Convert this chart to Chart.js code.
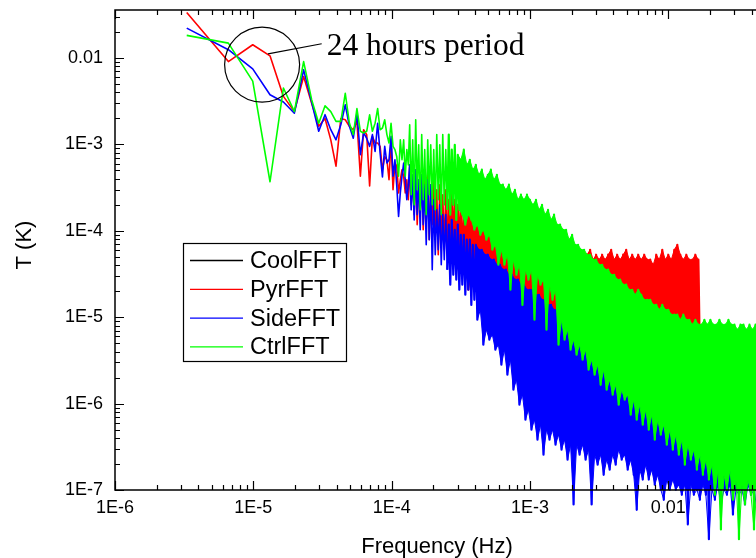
<!DOCTYPE html>
<html>
<head>
<meta charset="utf-8">
<script src="https://cdn.jsdelivr.net/npm/chart.js@4.4.1/dist/chart.umd.min.js"></script>
<style>
  html, body { margin: 0; padding: 0; background: #fff; overflow: hidden; }
  #wrap { position: relative; width: 756px; height: 558px; overflow: hidden; }
  #c { position: absolute; left: 0; top: 0; }
</style>
</head>
<body>
<div id="wrap"><canvas id="c" width="766" height="558"></canvas></div>
<script>
// FFT amplitude spectra of four temperature records (log-log).
const DF = 3.3e-6;                 // frequency resolution, Hz (bin k sits at k*DF)
const seriesNames  = ['CoolFFT', 'PyrFFT', 'SideFFT', 'CtrlFFT'];
const seriesColors = ['#000000', '#ff0000', '#0000ff', '#00ff00'];

const xTickValues = [1e-6, 1e-5, 1e-4, 1e-3, 1e-2];
const xTickLabels = ['1E-6', '1E-5', '1E-4', '1E-3', '0.01'];
const yTickValues = [1e-7, 1e-6, 1e-5, 1e-4, 1e-3, 1e-2];
const yTickLabels = ['1E-7', '1E-6', '1E-5', '1E-4', '1E-3', '0.01'];

// Individual FFT bins k = 1..40 (T in K)
const coolLowT = [];
const pyrLowT = [0.0337, 0.0091, 0.01425, 0.0106, 0.0036, 0.0024, 0.0061, 0.0030, 0.00162, 0.0020,
  0.00113, 5.6e-4, 0.0020, 0.00193, 0.00162, 0.00148, 0.00185, 4.3e-4, 0.00148, 0.0013,
  3.3e-4, 0.00124, 0.00104, 0.00104, 9.5e-4, 5.1e-4, 7.2e-4, 6.65e-4, 3.9e-4, 0.00113,
  3.0e-4, 6.1e-4, 5.6e-4, 2.75e-4, 3.9e-4, 5.1e-4, 4.3e-4, 2.75e-4, 3.9e-4, 2.29e-4];
const sideLowT = [0.0222, 0.0125, 0.0075, 0.00376, 0.0031, 0.0023, 0.0073, 0.0031, 0.00142, 0.00221,
  0.00148, 0.00113, 0.00169, 0.00288, 0.00162, 0.00118, 0.0023, 7.6e-4, 0.00136, 0.00118,
  9.5e-4, 0.0013, 8.3e-4, 0.00176, 8.0e-4, 4.2e-4, 9.5e-4, 6.1e-4, 6.65e-4, 0.00124,
  4.3e-4, 6.65e-4, 3.3e-4, 1.47e-4, 2.75e-4, 4.3e-4, 6.1e-4, 3.9e-4, 2.29e-4, 3.42e-4];
const ctrlLowT = [0.0183, 0.0149, 0.0054, 3.7e-4, 0.0045, 0.0024, 0.0091, 0.0033, 0.00176, 0.0028,
  0.0024, 0.00185, 0.00185, 0.0039, 0.00176, 0.0013, 0.0026, 0.00142, 0.00136, 0.00142,
  0.0022, 0.00142, 0.00176, 0.0026, 0.00148, 0.00155, 0.00193, 0.0013, 0.00104, 0.00176,
  9.5e-4, 8.7e-4, 7.2e-4, 4.3e-4, 0.00113, 6.65e-4, 0.00113, 4.3e-4, 8.7e-4, 5.8e-4];

// Above ~1.35e-4 Hz the bins are far denser than the plot resolution, so each
// series is kept as max/min pairs over log-spaced groups of bins.
const BIN_F0 = 1.35e-4;
const BINS_PER_DECADE = 46;
const coolHiT = [], coolLoT = [];

const pyrHiT = [5.8e-4, 4.46e-4, 5.1e-4, 3.9e-4, 4.46e-4, 3.9e-4, 4.46e-4, 3.42e-4, 3.9e-4, 2.99e-4,
  3.42e-4, 2.62e-4, 2.99e-4, 2.29e-4, 2.62e-4, 2.29e-4, 2.0e-4, 2.29e-4, 1.75e-4, 2.0e-4,
  1.75e-4, 1.54e-4, 1.75e-4, 1.34e-4, 1.54e-4, 1.34e-4, 1.18e-4, 1.34e-4, 1.03e-4, 1.18e-4,
  1.03e-4, 9.0e-5, 1.03e-4, 9.0e-5, 7.9e-5, 9.0e-5, 7.9e-5, 6.9e-5, 7.9e-5, 6.9e-5,
  6.9e-5, 6.04e-5, 6.9e-5, 6.04e-5, 6.04e-5, 6.9e-5, 5.29e-5, 6.04e-5, 5.29e-5, 6.04e-5,
  5.29e-5, 6.04e-5, 5.29e-5, 5.29e-5, 6.04e-5, 5.29e-5, 4.63e-5, 5.29e-5, 4.63e-5, 5.29e-5,
  6.04e-5, 4.63e-5, 5.29e-5, 4.63e-5, 5.29e-5, 4.63e-5, 5.29e-5, 6.04e-5, 4.63e-5, 5.29e-5,
  4.63e-5, 5.29e-5, 6.04e-5, 4.63e-5, 5.29e-5, 4.63e-5, 5.29e-5, 4.63e-5, 5.29e-5, 4.63e-5,
  4.63e-5, 4.05e-5, 5.29e-5, 4.63e-5, 6.04e-5, 4.63e-5, 5.29e-5, 4.63e-5, 6.04e-5, 6.9e-5,
  5.29e-5, 4.63e-5, 5.29e-5, 4.63e-5, 4.63e-5, 5.29e-5, 4.63e-5];
const pyrLoT = [2.0e-4, 1.54e-4, 1.18e-4, 1.75e-4, 1.03e-4, 1.34e-4, 7.9e-5, 1.18e-4, 9.0e-5, 5.29e-5,
  7.9e-5, 6.04e-5, 6.9e-5, 4.63e-5, 6.04e-5, 3.55e-5, 4.63e-5, 3.1e-5, 4.05e-5, 2.08e-5,
  3.1e-5, 2.38e-5, 2.72e-5, 1.82e-5, 2.38e-5, 1.59e-5, 2.08e-5, 1.39e-5, 1.82e-5, 1.59e-5,
  1.82e-5, 1.22e-5, 1.59e-5, 1.39e-5, 1.59e-5, 1.07e-5, 1.39e-5, 9.35e-6, 1.22e-5, 8.2e-6,
  1.07e-5, 9.35e-6, 7.17e-6, 9.35e-6, 6.27e-6, 8.2e-6, 7.17e-6, 5.49e-6, 7.17e-6, 6.27e-6,
  5.49e-6, 7.17e-6, 4.8e-6, 6.27e-6, 5.49e-6, 6.27e-6, 4.8e-6, 5.49e-6, 4.8e-6, 5.49e-6,
  4.8e-6, 5.49e-6, 4.2e-6, 5.49e-6, 4.8e-6, 5.49e-6, 4.2e-6, 4.8e-6, 5.49e-6, 4.2e-6,
  4.8e-6, 4.2e-6, 4.8e-6, 4.2e-6, 4.8e-6, 3.68e-6, 4.8e-6, 4.2e-6, 4.8e-6, 3.68e-6,
  4.8e-6, 4.2e-6, 3.68e-6, 4.8e-6, 4.2e-6, 3.68e-6, 4.8e-6, 4.2e-6, 3.68e-6, 4.8e-6,
  4.2e-6, 3.68e-6, 4.8e-6, 4.2e-6, 3.68e-6, 4.2e-6, 3.68e-6];

const sideHiT = [5.8e-4, 4.46e-4, 5.1e-4, 3.9e-4, 4.46e-4, 3.42e-4, 3.9e-4, 3.42e-4, 2.29e-4, 1.75e-4,
  2.0e-4, 1.54e-4, 1.54e-4, 1.18e-4, 1.34e-4, 1.03e-4, 1.18e-4, 9.0e-5, 9.0e-5, 7.9e-5,
  7.9e-5, 6.9e-5, 6.9e-5, 6.04e-5, 6.04e-5, 5.29e-5, 5.29e-5, 4.63e-5, 4.63e-5, 4.05e-5,
  4.05e-5, 3.55e-5, 3.55e-5, 3.1e-5, 3.1e-5, 2.72e-5, 2.72e-5, 2.38e-5, 2.38e-5, 2.08e-5,
  2.08e-5, 2.08e-5, 1.82e-5, 1.82e-5, 1.59e-5, 1.59e-5, 1.39e-5, 1.39e-5, 1.22e-5, 1.22e-5,
  1.07e-5, 1.07e-5, 9.35e-6, 9.35e-6, 8.2e-6, 8.2e-6, 7.17e-6, 7.17e-6, 6.27e-6, 6.27e-6,
  5.49e-6, 5.49e-6, 4.8e-6, 4.8e-6, 4.2e-6, 4.2e-6, 3.68e-6, 3.68e-6, 3.22e-6, 3.22e-6,
  2.82e-6, 2.82e-6, 2.82e-6, 2.47e-6, 2.47e-6, 2.47e-6, 2.16e-6, 2.16e-6, 2.16e-6, 1.89e-6,
  1.89e-6, 1.89e-6, 1.65e-6, 1.65e-6, 1.65e-6, 1.45e-6, 1.45e-6, 1.45e-6, 1.45e-6, 1.27e-6,
  1.27e-6, 1.27e-6, 1.27e-6, 1.11e-6, 1.11e-6, 1.11e-6, 1.11e-6, 9.7e-7, 9.7e-7, 9.7e-7,
  9.7e-7, 9.7e-7, 8.5e-7, 8.5e-7, 8.5e-7, 8.5e-7, 8.5e-7, 7.44e-7, 7.44e-7, 7.44e-7,
  7.44e-7, 7.44e-7, 7.44e-7, 6.51e-7, 6.51e-7, 6.51e-7, 6.51e-7, 6.51e-7, 6.51e-7];
const sideLoT = [1.75e-4, 1.34e-4, 1.54e-4, 1.03e-4, 1.18e-4, 6.9e-5, 7.9e-5, 3.55e-5, 5.29e-5, 6.04e-5,
  4.05e-5, 4.63e-5, 3.55e-5, 2.38e-5, 3.1e-5, 2.72e-5, 2.08e-5, 2.38e-5, 1.82e-5, 2.08e-5,
  1.39e-5, 1.59e-5, 9.35e-6, 1.22e-5, 4.8e-6, 7.17e-6, 5.49e-6, 6.27e-6, 4.2e-6, 4.8e-6,
  2.82e-6, 4.2e-6, 2.16e-6, 3.22e-6, 1.45e-6, 1.89e-6, 9.7e-7, 1.27e-6, 6.51e-7, 8.5e-7,
  4.99e-7, 6.51e-7, 3.82e-7, 5.7e-7, 2.56e-7, 4.99e-7, 3.82e-7, 4.99e-7, 3.34e-7, 4.37e-7,
  2.93e-7, 3.82e-7, 2.24e-7, 3.34e-7, 6.8e-8, 3.34e-7, 2.56e-7, 3.34e-7, 2.24e-7, 2.93e-7,
  6.8e-8, 2.56e-7, 1.96e-7, 2.56e-7, 1.5e-7, 2.24e-7, 1.72e-7, 2.56e-7, 1.96e-7, 2.93e-7,
  2.24e-7, 2.56e-7, 1.72e-7, 2.24e-7, 1.5e-7, 5.9e-8, 1.72e-7, 1.32e-7, 1.96e-7, 1.32e-7,
  1.72e-7, 1.15e-7, 1.5e-7, 1.01e-7, 7.7e-8, 1.32e-7, 1.01e-7, 1.32e-7, 1.01e-7, 1.15e-7,
  8.8e-8, 1.15e-7, 4.0e-8, 1.15e-7, 8.8e-8, 1.01e-7, 7.7e-8, 1.15e-7, 8.8e-8, 2.7e-8,
  1.01e-7, 7.7e-8, 1.15e-7, 6.8e-8, 1.01e-7, 8.8e-8, 1.15e-7, 5.2e-8, 1.01e-7, 8.8e-8,
  1.01e-7, 6.8e-8, 1.15e-7, 8.8e-8, 1.01e-7, 5.9e-8, 1.01e-7, 8.8e-8, 1.01e-7];

const ctrlHiT = [1.69e-3, 1.13e-3, 1.93e-3, 9.9e-4, 1.30e-3, 8.7e-4, 1.13e-3, 9.9e-4, 8.7e-4, 1.30e-3,
  9.9e-4, 1.30e-3, 8.7e-4, 1.30e-3, 8.7e-4, 9.9e-4, 7.6e-4, 6.65e-4, 8.7e-4, 5.8e-4,
  6.65e-4, 5.1e-4, 5.8e-4, 4.46e-4, 5.1e-4, 3.9e-4, 4.46e-4, 5.1e-4, 3.9e-4, 4.46e-4,
  3.42e-4, 3.42e-4, 2.99e-4, 3.42e-4, 2.62e-4, 2.99e-4, 2.29e-4, 2.62e-4, 2.29e-4, 2.62e-4,
  2.29e-4, 2.0e-4, 2.29e-4, 1.75e-4, 2.0e-4, 1.54e-4, 1.75e-4, 1.34e-4, 1.54e-4, 1.18e-4,
  1.18e-4, 1.03e-4, 1.03e-4, 7.9e-5, 9.0e-5, 6.9e-5, 6.9e-5, 6.04e-5, 6.04e-5, 5.29e-5,
  5.29e-5, 4.63e-5, 4.63e-5, 4.05e-5, 4.05e-5, 3.55e-5, 3.55e-5, 3.1e-5, 3.1e-5, 2.72e-5,
  2.72e-5, 2.38e-5, 2.38e-5, 2.08e-5, 2.08e-5, 1.82e-5, 2.08e-5, 1.82e-5, 1.59e-5, 1.59e-5,
  1.59e-5, 1.39e-5, 1.39e-5, 1.22e-5, 1.39e-5, 1.22e-5, 1.22e-5, 1.07e-5, 1.07e-5, 1.07e-5,
  9.35e-6, 1.07e-5, 9.35e-6, 9.35e-6, 8.2e-6, 9.35e-6, 8.2e-6, 8.2e-6, 9.35e-6, 8.2e-6,
  9.35e-6, 8.2e-6, 8.2e-6, 9.35e-6, 8.2e-6, 8.2e-6, 9.35e-6, 8.2e-6, 8.2e-6, 7.17e-6,
  8.2e-6, 8.2e-6, 7.17e-6, 8.2e-6, 7.17e-6, 8.2e-6, 7.17e-6, 7.17e-6, 7.17e-6];
const ctrlLoT = [2.62e-4, 2.0e-4, 2.99e-4, 1.75e-4, 2.29e-4, 1.54e-4, 2.62e-4, 2.0e-4, 1.75e-4, 2.29e-4,
  1.54e-4, 2.0e-4, 1.75e-4, 1.54e-4, 2.0e-4, 1.34e-4, 1.75e-4, 1.54e-4, 1.18e-4, 1.54e-4,
  1.34e-4, 1.03e-4, 1.18e-4, 9.0e-5, 1.03e-4, 7.9e-5, 9.0e-5, 6.04e-5, 6.9e-5, 4.05e-5,
  6.04e-5, 4.05e-5, 5.29e-5, 2.08e-5, 4.63e-5, 3.1e-5, 4.05e-5, 1.39e-5, 3.55e-5, 2.72e-5,
  3.55e-5, 9.35e-6, 3.1e-5, 2.38e-5, 2.72e-5, 7.17e-6, 2.38e-5, 1.59e-5, 2.08e-5, 4.8e-6,
  9.35e-6, 5.49e-6, 7.17e-6, 4.2e-6, 5.49e-6, 3.68e-6, 4.8e-6, 3.22e-6, 4.2e-6, 2.47e-6,
  3.22e-6, 2.16e-6, 2.82e-6, 1.65e-6, 2.47e-6, 1.45e-6, 1.89e-6, 1.27e-6, 1.65e-6, 9.7e-7,
  1.45e-6, 1.11e-6, 1.27e-6, 7.44e-7, 1.11e-6, 6.51e-7, 9.7e-7, 5.7e-7, 8.5e-7, 4.99e-7,
  7.44e-7, 3.82e-7, 6.51e-7, 4.37e-7, 5.7e-7, 3.34e-7, 4.99e-7, 2.93e-7, 4.37e-7, 2.56e-7,
  3.82e-7, 1.96e-7, 3.34e-7, 2.24e-7, 2.93e-7, 1.72e-7, 2.56e-7, 1.5e-7, 2.24e-7, 1.32e-7,
  1.96e-7, 8.8e-8, 1.72e-7, 3.5e-8, 1.5e-7, 1.01e-7, 1.72e-7, 7.7e-8, 1.32e-7, 2.7e-8,
  1.15e-7, 6.8e-8, 1.32e-7, 8.8e-8, 3.5e-8, 1.15e-7, 7.7e-8, 1.01e-7, 8.8e-8];

// first max/min group from which each spectrum reads as a solid band
const bandStart = [null, 18, 22, 16];

// Annotation: the diurnal (24 h) line
const DAY_FREQ = 1 / 86400;
const annotationText = '24 hours period';

const HALF_STEP = Math.pow(10, 0.5 / BINS_PER_DECADE);
const groupFreq = i => BIN_F0 * Math.pow(10, i / BINS_PER_DECADE);

// trace: single bins, then max/min alternation through the dense groups
function buildSeries(lowT, hiT, loT) {
  const pts = lowT.map((v, i) => ({ x: (i + 1) * DF, y: v }));
  hiT.forEach((v, i) => {
    pts.push({ x: groupFreq(i), y: v });
    if (i < loT.length) pts.push({ x: groupFreq(i) * HALF_STEP, y: loT[i] });
  });
  return pts;
}
// band outline: maxima left to right, minima back right to left
function buildBand(hiT, loT, start) {
  if (start === null || !hiT.length) return [];
  const pts = [];
  for (let i = start; i < hiT.length; i++) pts.push({ x: groupFreq(i), y: hiT[i] });
  for (let i = loT.length - 1; i >= start; i--) pts.push({ x: groupFreq(i) * HALF_STEP, y: loT[i] });
  return pts;
}

const hiSets = [coolHiT, pyrHiT, sideHiT, ctrlHiT];
const loSets = [coolLoT, pyrLoT, sideLoT, ctrlLoT];
const lowSets = [coolLowT, pyrLowT, sideLowT, ctrlLowT];

const SANS = '"Liberation Sans", Arial, Helvetica, sans-serif';
const SERIF = '"Liberation Serif", "Times New Roman", serif';

// Frame with inward ticks on all four sides.
const decorPlugin = {
  id: 'decor',
  afterDatasetsDraw(chart) {
    const { ctx, chartArea: a, scales: { x, y } } = chart;
    ctx.save();
    ctx.strokeStyle = '#000';
    ctx.lineWidth = 1.5;
    ctx.strokeRect(a.left, a.top, a.right - a.left, a.bottom - a.top);
    ctx.lineWidth = 1.2;
    const tickList = (lo, hi) => {
      const out = [];
      for (let d = Math.floor(Math.log10(lo)); d <= Math.ceil(Math.log10(hi)); d++) {
        for (let m = 1; m <= 9; m++) {
          const v = m * Math.pow(10, d);
          if (v >= lo * 0.999 && v <= hi * 1.001) out.push({ v, major: m === 1 });
        }
      }
      return out;
    };
    ctx.beginPath();
    tickList(x.min, x.max).forEach(t => {
      const px = Math.round(x.getPixelForValue(t.v)) + 0.5;
      const len = t.major ? 9 : 5;
      ctx.moveTo(px, a.bottom); ctx.lineTo(px, a.bottom - len);
      ctx.moveTo(px, a.top); ctx.lineTo(px, a.top + len);
    });
    tickList(y.min, y.max).forEach(t => {
      const py = Math.round(y.getPixelForValue(t.v)) + 0.5;
      const len = t.major ? 9 : 5;
      ctx.moveTo(a.left, py); ctx.lineTo(a.left + len, py);
      ctx.moveTo(a.right, py); ctx.lineTo(a.right - len, py);
    });
    ctx.stroke();
    ctx.restore();
  },
  // Axis titles, legend and the 24 h annotation.
  afterDraw(chart) {
    const { ctx, scales: { x, y } } = chart;
    ctx.save();
    ctx.fillStyle = '#000';
    ctx.strokeStyle = '#000';

    ctx.font = '22px ' + SANS;
    ctx.textAlign = 'center';
    ctx.textBaseline = 'alphabetic';
    ctx.fillText('Frequency (Hz)', 437, 553);
    ctx.save();
    ctx.translate(25, 245);
    ctx.rotate(-Math.PI / 2);
    ctx.textBaseline = 'middle';
    ctx.fillText('T (K)', 0, 0);
    ctx.restore();

    const lx = 183.5, ly = 243.5, lw = 163, lh = 118;
    ctx.lineWidth = 1.2;
    ctx.strokeRect(lx, ly, lw, lh);
    ctx.font = '23.5px ' + SANS;
    ctx.textAlign = 'left';
    ctx.textBaseline = 'middle';
    seriesNames.forEach((name, i) => {
      const ry = 260.5 + i * 28.8;
      ctx.strokeStyle = seriesColors[i];
      ctx.lineWidth = 1.3;
      ctx.beginPath();
      ctx.moveTo(190, ry); ctx.lineTo(243, ry);
      ctx.stroke();
      ctx.fillStyle = '#000';
      ctx.fillText(name, 250, ry + 1);
    });

    ctx.strokeStyle = '#000';
    ctx.lineWidth = 1.2;
    const cx = x.getPixelForValue(DAY_FREQ);
    const cy = y.getPixelForValue(8.4e-3);
    ctx.beginPath();
    ctx.arc(cx, cy, 37.5, 0, Math.PI * 2);
    ctx.stroke();
    const sx = x.getPixelForValue(4 * DF) - 2;
    const sy = y.getPixelForValue(pyrLowT[3]) - 2;
    const ex = x.getPixelForValue(3.12e-5);
    const ey = y.getPixelForValue(0.01464);
    ctx.beginPath();
    ctx.moveTo(sx, sy); ctx.lineTo(ex, ey);
    ctx.stroke();
    ctx.font = '31.5px ' + SERIF;
    ctx.textAlign = 'left';
    ctx.textBaseline = 'alphabetic';
    ctx.fillStyle = '#000';
    ctx.fillText(annotationText, ex + 5, y.getPixelForValue(0.0109));
    ctx.restore();
  }
};

const tickFont = { family: SANS, size: 18 };
// thicker strokes where the spectrum is packed densely
const segWidth = c => (c.p0.parsed.x > 2.5e-4 ? 2.2 : 1.6);

const datasets = [];
seriesNames.forEach((name, i) => {
  const order = seriesNames.length - 1 - i;
  datasets.push({
    label: name,
    data: buildSeries(lowSets[i], hiSets[i], loSets[i]),
    borderColor: seriesColors[i],
    backgroundColor: seriesColors[i],
    borderWidth: 1.6,
    borderJoinStyle: 'round',
    segment: { borderWidth: segWidth },
    pointRadius: 0,
    tension: 0,
    fill: false,
    clip: false,
    order
  });
  datasets.push({
    label: name + ' band',
    data: buildBand(hiSets[i], loSets[i], bandStart[i]),
    borderColor: seriesColors[i],
    backgroundColor: seriesColors[i],
    borderWidth: 1,
    pointRadius: 0,
    tension: 0,
    fill: 'shape',
    clip: false,
    order
  });
});

new Chart(document.getElementById('c'), {
  type: 'line',
  data: { datasets },
  options: {
    responsive: false,
    animation: false,
    devicePixelRatio: 1,
    events: [],
    layout: { padding: { left: 0, right: 1, top: 10, bottom: 0 } },
    plugins: { legend: { display: false }, tooltip: { enabled: false } },
    scales: {
      x: {
        type: 'logarithmic',
        min: 1e-6,
        max: 0.05,
        afterBuildTicks: s => { s.ticks = xTickValues.map(v => ({ value: v })); },
        afterFit: s => { s.height = 68; s.paddingLeft = 0; s.paddingRight = 0; },
        ticks: {
          callback: (v, i) => xTickLabels[i],
          font: tickFont, color: '#000', padding: 7,
          maxRotation: 0, autoSkip: false
        },
        grid: { display: false, drawTicks: false },
        border: { display: false }
      },
      y: {
        type: 'logarithmic',
        min: 1e-7,
        max: 0.036,
        afterBuildTicks: s => { s.ticks = yTickValues.map(v => ({ value: v })); },
        afterFit: s => { s.width = 115; s.paddingTop = 0; s.paddingBottom = 0; },
        ticks: {
          callback: (v, i) => yTickLabels[i],
          font: tickFont, color: '#000', padding: 12,
          autoSkip: false
        },
        grid: { display: false, drawTicks: false },
        border: { display: false }
      }
    }
  },
  plugins: [decorPlugin]
});
</script>
</body>
</html>
